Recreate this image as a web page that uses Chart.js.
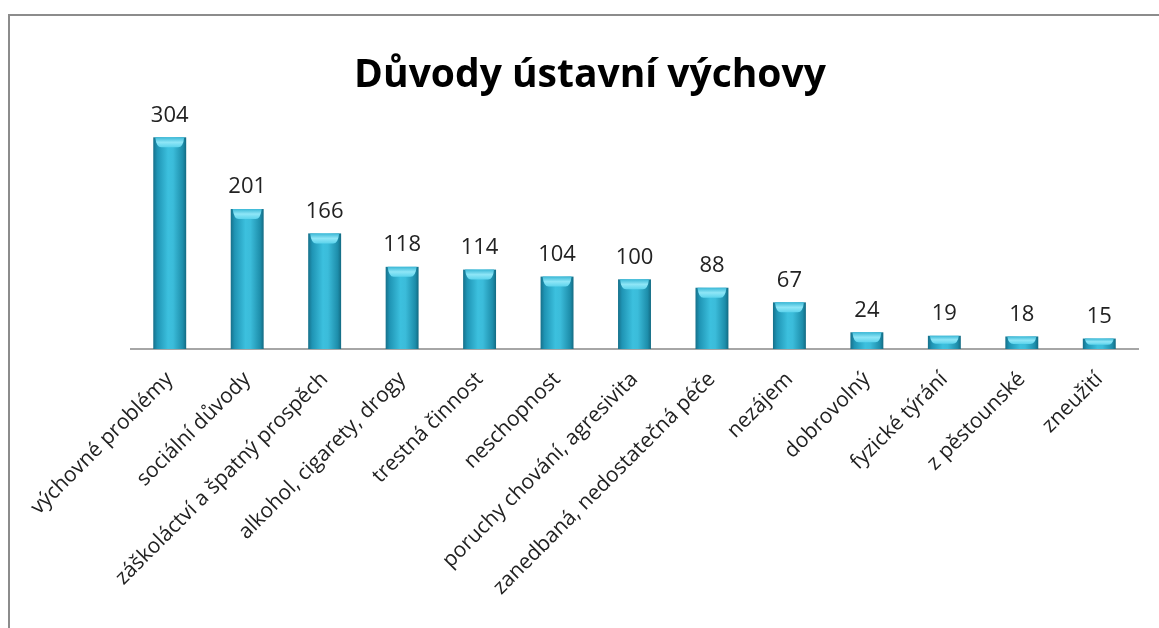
<!DOCTYPE html>
<html>
<head>
<meta charset="utf-8">
<script src="https://cdn.jsdelivr.net/npm/chart.js@4"></script>
<style>
  body { margin: 0; background: #fff; }
  #wrap { position: relative; width: 1159px; height: 628px; }
  #frame { position: absolute; left: 8px; top: 14px; width: 1151px; height: 614px;
           border-left: 2px solid #8c8c8c; border-top: 2px solid #8c8c8c; box-sizing: border-box; }
  canvas { position: absolute; left: 0; top: 0; }
</style>
</head>
<body>
<div id="wrap">
  <div id="frame"></div>
  <canvas id="myChart" width="1159" height="628"></canvas>
</div>
<script>
const chartTitle = "Důvody ústavní výchovy";
const categories = [
  "výchovné problémy", "sociální důvody", "záškoláctví a špatný prospěch",
  "alkohol, cigarety, drogy", "trestná činnost", "neschopnost",
  "poruchy chování, agresivita", "zanedbaná, nedostatečná péče", "nezájem",
  "dobrovolný", "fyzické týrání", "z pěstounské", "zneužití"
];
const counts = [304, 201, 166, 118, 114, 104, 100, 88, 67, 24, 19, 18, 15];

// title is centred on the whole picture, not on the plot area
const pageTitle = {
  id: "pageTitle",
  afterDraw(chart) {
    const c = chart.ctx;
    c.save();
    c.fillStyle = "#000";
    c.font = "bold 39px 'Open Sans'";
    c.textAlign = "center";
    c.textBaseline = "alphabetic";
    c.fillText(chartTitle, 590, 87);
    c.restore();
  }
};

// paints the cylinder look + value labels on top of each bar
const cylinderBars = {
  id: "cylinderBars",
  afterDatasetsDraw(chart) {
    const c = chart.ctx;
    const meta = chart.getDatasetMeta(0);
    meta.data.forEach((bar, i) => {
      const w = bar.width;
      const left = bar.x - w / 2;
      const top = bar.y;
      const h = bar.base - bar.y;
      const g = c.createLinearGradient(left, 0, left + w, 0);
      g.addColorStop(0, "#16708a");
      g.addColorStop(0.12, "#1f94b4");
      g.addColorStop(0.45, "#3cc0de");
      g.addColorStop(0.6, "#3bbcda");
      g.addColorStop(0.9, "#1d8daa");
      g.addColorStop(1, "#136a82");
      c.save();
      c.fillStyle = g;
      c.fillRect(left, top, w, h);
      // top cap, a light concave band
      const capH = Math.min(10, h * 0.6);
      const cg = c.createLinearGradient(0, top, 0, top + capH);
      cg.addColorStop(0, "#3bb8d6");
      cg.addColorStop(0.5, "#8fe6f7");
      cg.addColorStop(1, "#5cd3ec");
      c.fillStyle = cg;
      c.beginPath();
      c.moveTo(left + 2, top);
      c.lineTo(left + w - 2, top);
      c.quadraticCurveTo(left + w - 3, top + capH, left + w - 8, top + capH);
      c.lineTo(left + 8, top + capH);
      c.quadraticCurveTo(left + 3, top + capH, left + 2, top);
      c.closePath();
      c.fill();
      // value label
      c.fillStyle = "#222";
      c.font = "22px 'Open Sans'";
      c.textAlign = "center";
      c.textBaseline = "bottom";
      c.fillText(String(counts[i]), bar.x, top - 11);
      c.restore();
    });
  }
};

const ctx = document.getElementById("myChart");
new Chart(ctx, {
  type: "bar",
  data: {
    labels: categories,
    datasets: [{
      data: counts,
      backgroundColor: "rgba(0,0,0,0)",
      barPercentage: 0.85,
      categoryPercentage: 0.5
    }]
  },
  options: {
    responsive: false,
    animation: false,
    layout: { padding: { left: 131, right: 21, top: 99, bottom: 29 } },
    plugins: {
      legend: { display: false },
      tooltip: { enabled: false },
      title: { display: false }
    },
    scales: {
      x: {
        grid: { display: false },
        border: { color: "#a6a6a6", width: 2 },
        ticks: {
          color: "#222",
          font: { family: "'Open Sans'", size: 21 },
          maxRotation: 45,
          minRotation: 45,
          padding: 10
        }
      },
      y: {
        display: false,
        min: 0,
        max: 359
      }
    }
  },
  plugins: [cylinderBars, pageTitle]
});
</script>
</body>
</html>
